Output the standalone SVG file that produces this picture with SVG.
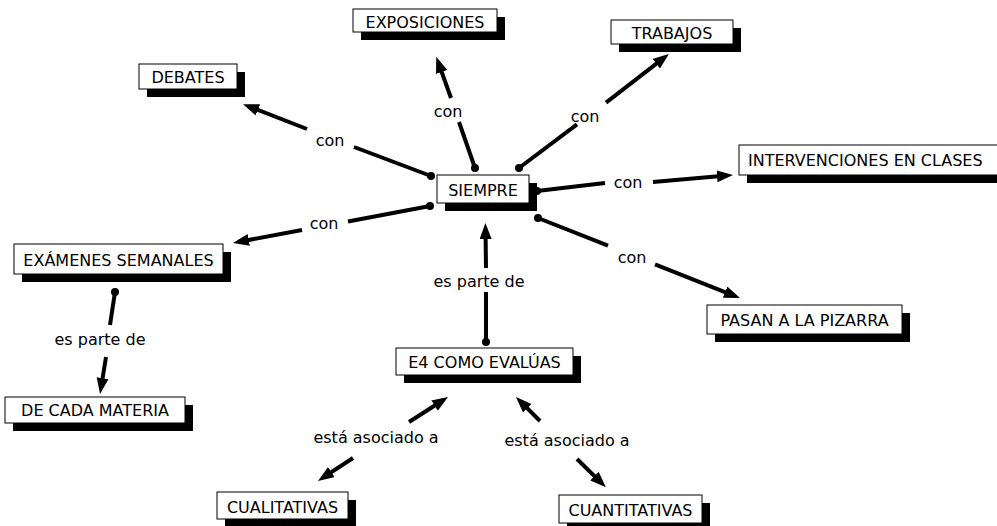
<svg xmlns="http://www.w3.org/2000/svg" width="997" height="526" viewBox="0 0 997 526">
<style>
.sh{fill:#000}
.bx{fill:#fff;stroke:#000;stroke-width:1}
.t{font-family:"DejaVu Sans",Verdana,sans-serif;font-size:16px;fill:#000}
.m{text-anchor:middle}
.ln{stroke:#000;stroke-width:4;fill:none}
.ar{marker-end:url(#ah)}
.dot{fill:#000}
</style>
<defs>
<marker id="ah" markerUnits="userSpaceOnUse" markerWidth="18" markerHeight="14" refX="10" refY="6" orient="auto">
<path d="M0,0 L16,6 L0,12 z" fill="#000"/>
</marker>
</defs>
<rect width="997" height="526" fill="#fff"/>
<g id="connectors">
<line class="ln" x1="431" y1="176" x2="354" y2="147"/>
<line class="ln ar" x1="307" y1="129" x2="248.6" y2="106.3"/>
<circle class="dot" cx="431" cy="176" r="4"/>
<text class="t m" x="330" y="146">con</text>
<line class="ln" x1="475" y1="168" x2="459" y2="122"/>
<line class="ln ar" x1="451" y1="98" x2="438.3" y2="62.5"/>
<circle class="dot" cx="475" cy="168" r="4"/>
<text class="t m" x="448" y="117">con</text>
<line class="ln" x1="519" y1="168" x2="577" y2="124.4"/>
<line class="ln ar" x1="606" y1="102.6" x2="664.2" y2="57.6"/>
<circle class="dot" cx="519" cy="168" r="4"/>
<text class="t m" x="585" y="122">con</text>
<line class="ln" x1="537" y1="191" x2="605" y2="183"/>
<line class="ln ar" x1="653" y1="182" x2="727" y2="175.5"/>
<circle class="dot" cx="537" cy="191" r="4"/>
<text class="t m" x="628" y="188">con</text>
<line class="ln" x1="430" y1="206" x2="348" y2="221.5"/>
<line class="ln ar" x1="302" y1="230" x2="238.9" y2="241.8"/>
<circle class="dot" cx="430" cy="206" r="4"/>
<text class="t m" x="324" y="229">con</text>
<line class="ln" x1="538" y1="218" x2="608" y2="245.7"/>
<line class="ln ar" x1="655" y1="264.3" x2="734.4" y2="295.8"/>
<circle class="dot" cx="538" cy="218" r="4"/>
<text class="t m" x="632" y="263">con</text>
<line class="ln" x1="486" y1="342" x2="486" y2="292"/>
<line class="ln ar" x1="486" y1="268" x2="485.5" y2="229"/>
<circle class="dot" cx="486" cy="342" r="4"/>
<text class="t m" x="479" y="287">es parte de</text>
<line class="ln" x1="115" y1="292" x2="110" y2="325"/>
<line class="ln ar" x1="106" y1="357" x2="101" y2="388"/>
<circle class="dot" cx="115" cy="292" r="4"/>
<text class="t m" x="100" y="345">es parte de</text>
<line class="ln ar" x1="409" y1="422" x2="443" y2="400.3"/>
<line class="ln ar" x1="353" y1="458" x2="323" y2="477.6"/>
<text class="t m" x="376" y="443">está asociado a</text>
<line class="ln ar" x1="540" y1="421" x2="520.2" y2="401.2"/>
<line class="ln ar" x1="577" y1="459" x2="601.6" y2="483.1"/>
<text class="t m" x="567" y="446">está asociado a</text>
</g>
<g id="n-exposiciones">
<rect class="sh" x="361" y="17" width="144" height="23"/>
<rect class="bx" x="353" y="9" width="144" height="23"/>
<text class="t m" x="425" y="28">EXPOSICIONES</text>
</g>
<g id="n-trabajos">
<rect class="sh" x="619" y="28" width="122" height="24"/>
<rect class="bx" x="611" y="20" width="122" height="24"/>
<text class="t m" x="672" y="39">TRABAJOS</text>
</g>
<g id="n-debates">
<rect class="sh" x="147" y="72" width="98" height="25"/>
<rect class="bx" x="139" y="64" width="98" height="25"/>
<text class="t m" x="188" y="83">DEBATES</text>
</g>
<g id="n-siempre">
<rect class="sh" x="445" y="183" width="92" height="28"/>
<rect class="bx" x="437" y="175" width="92" height="28"/>
<text class="t m" x="483" y="196">SIEMPRE</text>
</g>
<g id="n-intervenciones">
<rect class="sh" x="747" y="153" width="270" height="30"/>
<rect class="bx" x="739" y="145" width="270" height="30"/>
<text class="t" x="748" y="166">INTERVENCIONES EN CLASES</text>
</g>
<g id="n-examenes">
<rect class="sh" x="22" y="252" width="209" height="30"/>
<rect class="bx" x="14" y="244" width="209" height="30"/>
<text class="t m" x="118.5" y="266">EXÁMENES SEMANALES</text>
</g>
<g id="n-pasan">
<rect class="sh" x="715" y="313" width="195" height="29"/>
<rect class="bx" x="707" y="305" width="195" height="29"/>
<text class="t m" x="804.5" y="326">PASAN A LA PIZARRA</text>
</g>
<g id="n-e4">
<rect class="sh" x="404" y="356" width="177" height="27"/>
<rect class="bx" x="396" y="348" width="177" height="27"/>
<text class="t m" x="484.5" y="368">E4 COMO EVALÚAS</text>
</g>
<g id="n-decada">
<rect class="sh" x="13" y="405" width="180" height="26"/>
<rect class="bx" x="5" y="397" width="180" height="26"/>
<text class="t m" x="95" y="416">DE CADA MATERIA</text>
</g>
<g id="n-cualitativas">
<rect class="sh" x="225" y="500" width="131" height="27"/>
<rect class="bx" x="217" y="492" width="131" height="27"/>
<text class="t m" x="282.5" y="513">CUALITATIVAS</text>
</g>
<g id="n-cuantitativas">
<rect class="sh" x="567" y="503" width="143" height="28"/>
<rect class="bx" x="559" y="495" width="143" height="28"/>
<text class="t m" x="630.5" y="516">CUANTITATIVAS</text>
</g>
</svg>
